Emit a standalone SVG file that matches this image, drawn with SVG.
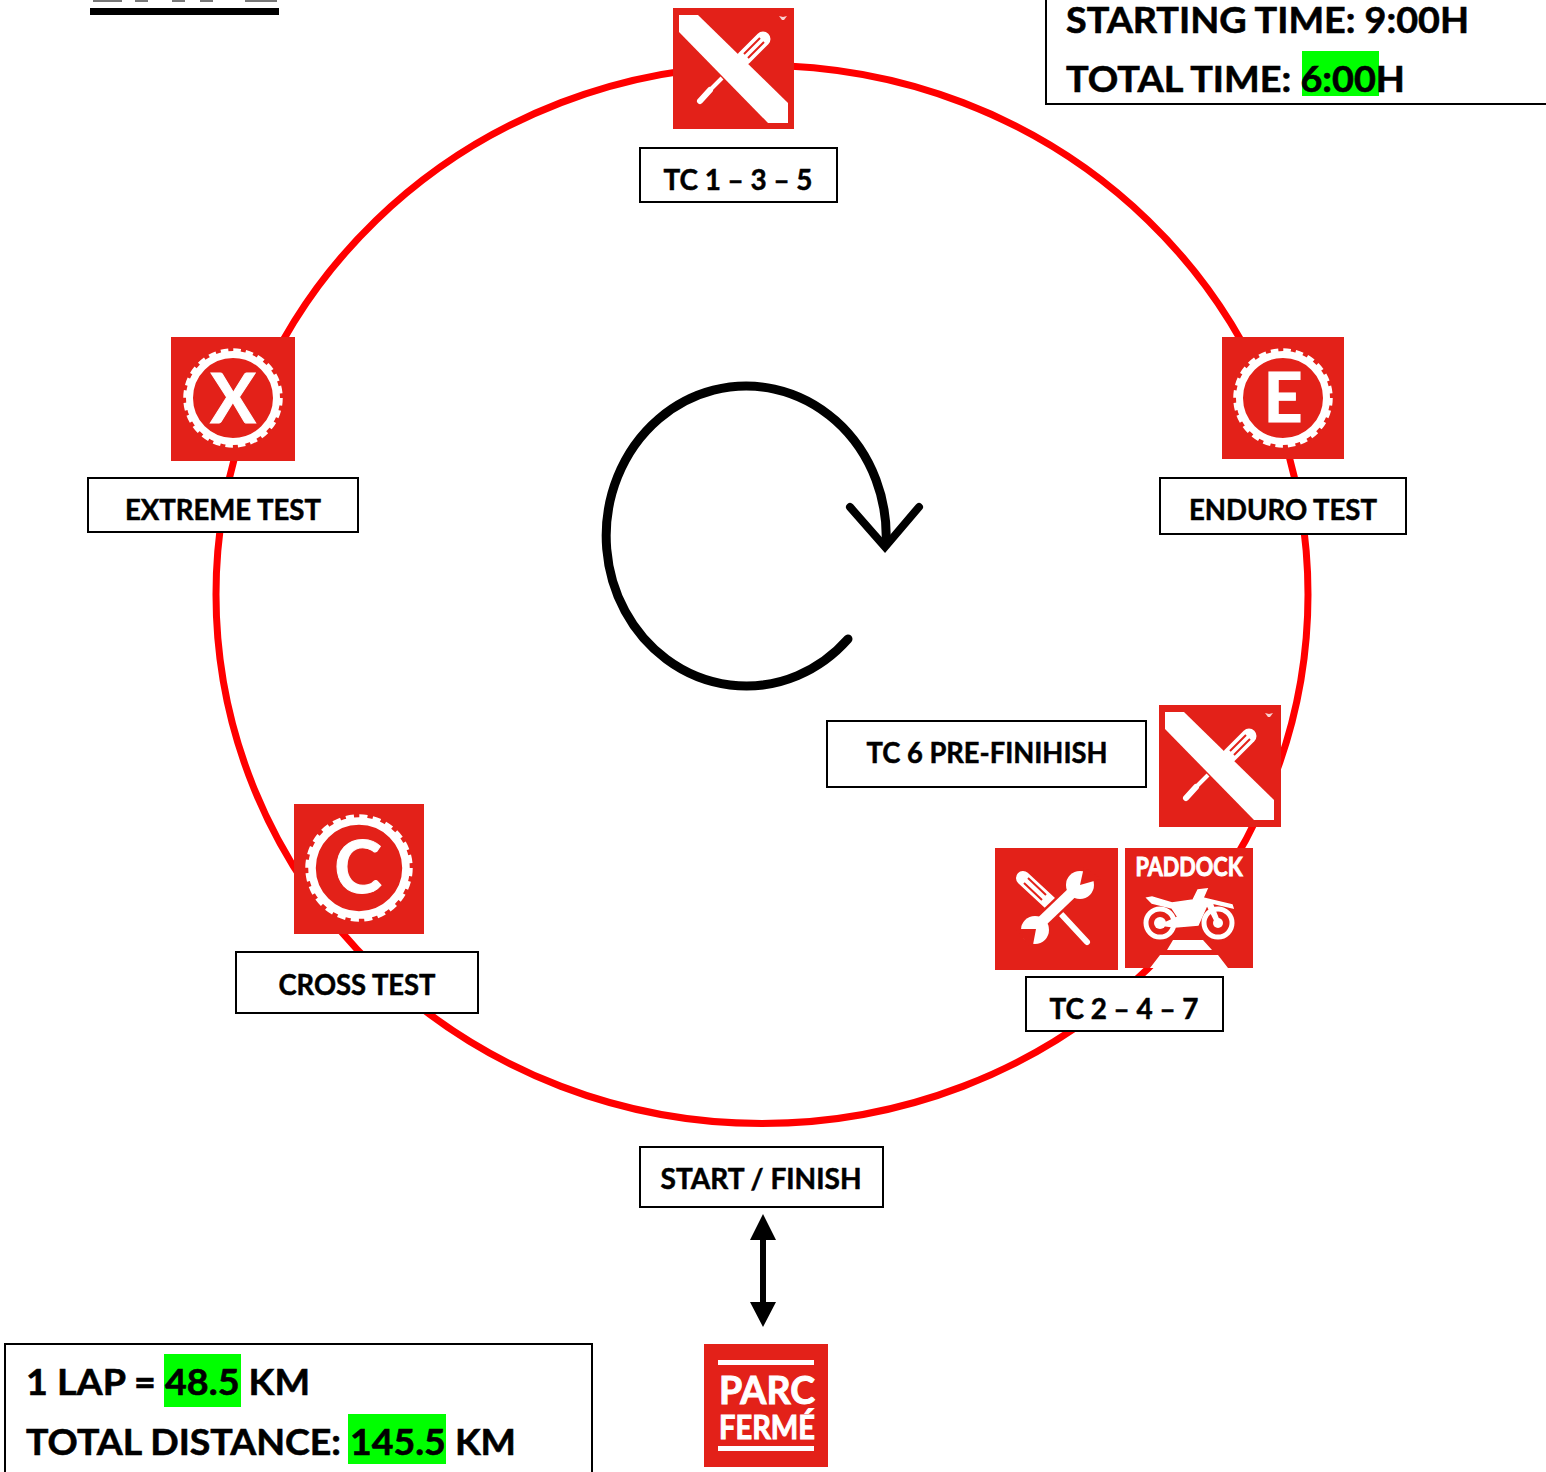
<svg xmlns="http://www.w3.org/2000/svg" width="1546" height="1472" viewBox="0 0 1546 1472">
<style>
.lbl{font-family:Lato,"Liberation Sans",sans-serif;font-weight:700;font-size:28px;fill:#000;stroke:#000;stroke-width:.5px;text-anchor:middle}
.big{font-family:Lato,"Liberation Sans",sans-serif;font-weight:700;font-size:37px;fill:#000;stroke:#000;stroke-width:.6px}
.box{fill:#fff;stroke:#000;stroke-width:2}
.bg{fill:#e32119}
.hi{fill:#00ff00}
.w{fill:#fff}
.ic{font-family:Lato,"Liberation Sans",sans-serif;fill:#fff;text-anchor:middle;font-weight:700}
.heavy{stroke:#fff;stroke-width:1px}
</style>
<defs>
<g id="pencil">
<path class="w" d="M6 7H25L115 95V115H95L6 24Z"/>
<path d="M90 31L71 50" stroke="#fff" stroke-width="15" stroke-linecap="round" fill="none"/>
<path d="M87 30L71 46M91 34L75 50" stroke="#e32119" stroke-width="2" fill="none"/>
<path d="M49 70L37 82" stroke="#fff" stroke-width="4" fill="none"/>
<path d="M37 82L27 93" stroke="#fff" stroke-width="6" stroke-linecap="round" fill="none"/>
<path class="w" d="M106 8l4 1 4-1-3 4h-2z" opacity=".8"/>
</g>
<g id="gear">
<circle cx="0" cy="0" r="43.5" fill="none" stroke="#fff" stroke-width="7"/>
<circle cx="0" cy="0" r="47" fill="none" stroke="#fff" stroke-width="5.5" stroke-dasharray="7.4 4.9"/>
</g>
</defs>

<g id="connectors">
<ellipse cx="762" cy="594.5" rx="546" ry="529" fill="none" stroke="#ff0000" stroke-width="7"/>
<path d="M847 640A140 150 0 1 1 885 545" fill="none" stroke="#000" stroke-width="9" stroke-linecap="round" transform="translate(1 -1)"/>
<path d="M850 507L885 547L919 507" fill="none" stroke="#000" stroke-width="8" stroke-linecap="round" stroke-linejoin="miter"/>
<path d="M763 1236V1306" stroke="#000" stroke-width="6" fill="none"/>
<path d="M763 1214L776 1240H750Z M763 1327L776 1302H750Z" fill="#000"/>
</g>

<g id="title">
<rect x="90" y="8" width="189" height="7" fill="#000"/>
<path d="M93 0h29v2H93zM135 0h13v2h-13zM172 0h13v2h-13zM200 0h13v2h-13zM245 0h32v2h-32z" fill="#777"/>
</g>

<g id="time-info">
<path d="M1046 0V104H1546" fill="#fff" stroke="#000" stroke-width="2"/>
<rect class="hi" x="1302" y="51" width="77" height="45"/>
<text class="big" x="1066" y="33" textLength="403" lengthAdjust="spacingAndGlyphs">STARTING TIME: 9:00H</text>
<text class="big" x="1066" y="92" textLength="339" lengthAdjust="spacingAndGlyphs">TOTAL TIME: 6:00H</text>
</g>

<g id="distance-info">
<path d="M5 1472V1344H592V1472" fill="#fff" stroke="#000" stroke-width="2"/>
<rect class="hi" x="164" y="1354" width="77" height="53"/>
<rect class="hi" x="348" y="1414" width="98" height="50"/>
<text class="big" x="26" y="1395" textLength="284" lengthAdjust="spacingAndGlyphs">1 LAP = 48.5 KM</text>
<text class="big" x="26" y="1455" textLength="490" lengthAdjust="spacingAndGlyphs">TOTAL DISTANCE: 145.5 KM</text>
</g>

<g id="tc135">
<rect class="bg" x="673" y="8" width="121" height="121"/>
<use href="#pencil" x="673" y="8"/>
<rect class="box" x="640" y="148" width="197" height="54"/>
<text class="lbl" x="738" y="190" textLength="149" lengthAdjust="spacingAndGlyphs">TC 1 – 3 – 5</text>
</g>

<g id="extreme">
<rect class="bg" x="171" y="337" width="124" height="124"/>
<use href="#gear" x="233" y="398"/>
<text class="ic heavy" x="233" y="423" font-size="68">X</text>
<rect class="box" x="88" y="478" width="270" height="54"/>
<text class="lbl" x="223" y="520" textLength="196" lengthAdjust="spacingAndGlyphs">EXTREME TEST</text>
</g>

<g id="enduro">
<rect class="bg" x="1222" y="337" width="122" height="122"/>
<use href="#gear" x="1283" y="398"/>
<text class="ic heavy" x="1283" y="422" font-size="68">E</text>
<rect class="box" x="1160" y="478" width="246" height="56"/>
<text class="lbl" x="1283" y="520" textLength="188" lengthAdjust="spacingAndGlyphs">ENDURO TEST</text>
</g>

<g id="tc6">
<rect class="box" x="827" y="721" width="319" height="66"/>
<text class="lbl" x="987" y="763" textLength="241" lengthAdjust="spacingAndGlyphs">TC 6 PRE-FINIHISH</text>
<rect class="bg" x="1159" y="705" width="122" height="122"/>
<use href="#pencil" x="1159" y="705"/>
</g>

<g id="cross">
<rect class="bg" x="294" y="804" width="130" height="130"/>
<use href="#gear" transform="translate(359 868) scale(1.08)"/>
<text class="ic heavy" x="358" y="893" font-size="72">C</text>
<rect class="box" x="236" y="952" width="242" height="61"/>
<text class="lbl" x="357" y="995" textLength="157" lengthAdjust="spacingAndGlyphs">CROSS TEST</text>
</g>

<g id="tc247">
<rect class="bg" x="995" y="848" width="123" height="122"/>
<g transform="translate(995 848)" fill="none">
<path d="M28 30L55 55" stroke="#fff" stroke-width="14" stroke-linecap="round"/>
<path d="M29 35L47 52M33 30L51 47" stroke="#e32119" stroke-width="2"/>
<path d="M67 67L92 94" stroke="#fff" stroke-width="6" stroke-linecap="round"/>
<path d="M85 37L40 80" stroke="#e32119" stroke-width="16"/>
<path d="M85 37L40 80" stroke="#fff" stroke-width="11"/>
<circle cx="85" cy="37" r="14" fill="#fff"/>
<circle cx="40" cy="82" r="14" fill="#fff"/>
<path d="M85 37L89 19L106 31Z M41 81L21 81L37 102Z" fill="#e32119"/>
</g>
<rect class="bg" x="1125" y="848" width="128" height="120"/>
<g transform="translate(1125 848)">
<text class="ic heavy" x="64" y="28" font-size="27" textLength="107" lengthAdjust="spacingAndGlyphs">PADDOCK</text>
<g fill="none" stroke="#fff" stroke-width="5">
<circle cx="35" cy="75" r="14"/>
<circle cx="93" cy="75" r="14"/>
</g>
<circle class="w" cx="35" cy="75" r="6"/>
<circle class="w" cx="93" cy="75" r="5"/>
<path class="w" stroke="#fff" stroke-width="1.5" d="M22 50L27 49L47 55L68 52L73 42L82 41L78 50L107 57L108 60L87 55L95 75L92 77L82 57L73 77L50 79L35 77L53 69L47 60L27 55Z"/>
<path class="w" d="M48 92H78L87 102H42ZM35 107H93L103 120H25Z"/>
</g>
<rect class="box" x="1026" y="977" width="197" height="54"/>
<text class="lbl" x="1124" y="1019" textLength="149" lengthAdjust="spacingAndGlyphs">TC 2 – 4 – 7</text>
</g>

<g id="start-finish">
<rect class="box" x="640" y="1147" width="243" height="60"/>
<text class="lbl" x="761" y="1189" textLength="201" lengthAdjust="spacingAndGlyphs">START / FINISH</text>
</g>

<g id="parc-ferme">
<rect class="bg" x="704" y="1344" width="124" height="123"/>
<rect class="w" x="718" y="1360" width="96" height="5"/>
<rect class="w" x="718" y="1446" width="96" height="5"/>
<text class="ic heavy" x="767" y="1404" font-size="38" textLength="96" lengthAdjust="spacingAndGlyphs">PARC</text>
<text class="ic heavy" x="767" y="1439" font-size="33" textLength="96" lengthAdjust="spacingAndGlyphs">FERMÉ</text>
</g>
</svg>
